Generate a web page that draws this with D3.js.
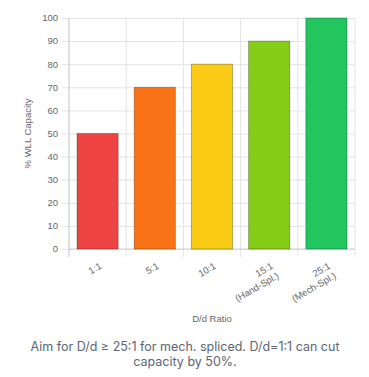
<!DOCTYPE html>
<html>
<head>
<meta charset="utf-8">
<script src="https://cdn.jsdelivr.net/npm/d3@7"></script>
<style>
  body { margin: 0; background: #fff; }
</style>
</head>
<body>
<div id="chart"></div>
<script>
// data
const ratios = [["1:1"], ["5:1"], ["10:1"], ["15:1", "(Hand-Spl.)"], ["25:1", "(Mech-Spl.)"]];
const capacity = [50, 70, 80, 90, 100];
const barColors = ["#ef4444", "#f97316", "#facc15", "#84cc16", "#22c55e"];
const yTicks = [0, 10, 20, 30, 40, 50, 60, 70, 80, 90, 100];

const W = 369, H = 377;
const margin = {top: 18, right: 14, bottom: 128, left: 69},
    width = W - margin.left - margin.right,
    height = H - margin.top - margin.bottom;

const svg = d3.select("#chart")
  .append("svg")
    .attr("width", W)
    .attr("height", H)
    .style("font-family", "'Liberation Sans', Arial, sans-serif");

const g = svg.append("g")
    .attr("transform", "translate(" + margin.left + "," + margin.top + ")");

const keys = ratios.map(d => d.join(" "));

let x = d3.scaleBand()
  .domain(keys)
  .range([0, width])
  .paddingInner(0)
  .paddingOuter(0);

let y = d3.scaleLinear()
  .domain([0, 100])
  .range([height, 0]);

// horizontal grid + y ticks
g.append("g")
  .attr("class", "y-grid")
  .call(d3.axisLeft(y).tickValues(yTicks).tickSize(-width).tickFormat(""))
  .call(a => a.select(".domain").remove())
  .call(a => a.selectAll("line").attr("stroke", "#e3e3e3").attr("x1", -7));

// vertical grid lines (band edges)
const edges = keys.map(k => x(k)).concat([width]);
g.selectAll(".vgrid")
  .data(edges)
  .enter()
  .append("line")
    .attr("x1", d => d).attr("x2", d => d)
    .attr("y1", 0).attr("y2", height + 8)
    .attr("stroke", "#e3e3e3");

// axis lines
g.append("line")
  .attr("x1", 0).attr("x2", width)
  .attr("y1", y(0)).attr("y2", y(0))
  .attr("stroke", "#cfcfcf");
g.append("line")
  .attr("x1", 0).attr("x2", 0)
  .attr("y1", 0).attr("y2", height + 8)
  .attr("stroke", "#cfcfcf");

// y tick labels
g.selectAll(".ylab")
  .data(yTicks)
  .enter()
  .append("text")
    .attr("x", -11)
    .attr("y", d => y(d))
    .attr("dy", "0.35em")
    .attr("text-anchor", "end")
    .attr("fill", "#666")
    .style("font-size", "9.5px")
    .text(d => d);

// bars
const barW = x.bandwidth() * 0.72;
g.selectAll(".bar")
  .data(capacity)
  .enter()
  .append("rect")
    .attr("x", (d, i) => x(keys[i]) + (x.bandwidth() - barW) / 2)
    .attr("y", d => y(d))
    .attr("width", barW)
    .attr("height", d => y(0) - y(d))
    .attr("fill", (d, i) => barColors[i])
    .attr("stroke", "rgba(0,0,0,0.28)")
    .attr("stroke-width", 1);

// x tick labels, rotated
const xl = g.selectAll(".xlab")
  .data(ratios)
  .enter()
  .append("text")
    .attr("text-anchor", "end")
    .attr("fill", "#666")
    .style("font-size", "9.5px")
    .attr("transform", (d, i) =>
      "translate(" + (x(keys[i]) + x.bandwidth() / 2 + 3) + "," + (height + 16) + ") rotate(-30)");
xl.selectAll("tspan")
  .data(d => d)
  .enter()
  .append("tspan")
    .attr("x", 0)
    .attr("dy", (d, i) => i === 0 ? "0.35em" : "1.2em")
    .text(d => d);

// axis titles
svg.append("text")
  .attr("x", margin.left + width / 2)
  .attr("y", margin.top + height + 73)
  .attr("text-anchor", "middle")
  .attr("fill", "#666")
  .style("font-size", "9.5px")
  .text("D/d Ratio");

svg.append("text")
  .attr("transform", "translate(31," + (margin.top + height / 2) + ") rotate(-90)")
  .attr("text-anchor", "middle")
  .attr("fill", "#666")
  .style("font-size", "9.5px")
  .text("% WLL Capacity");

// caption
const caption = svg.append("text")
  .attr("text-anchor", "middle")
  .attr("fill", "#5b6575")
  .style("font-family", "Inter, 'Noto Sans', sans-serif")
  .style("font-size", "12.5px");
caption.append("tspan").attr("x", 185).attr("y", 351)
  .text("Aim for D/d \u2265 25:1 for mech. spliced. D/d=1:1 can cut");
caption.append("tspan").attr("x", 185).attr("y", 366)
  .text("capacity by 50%.");
</script>
</body>
</html>
